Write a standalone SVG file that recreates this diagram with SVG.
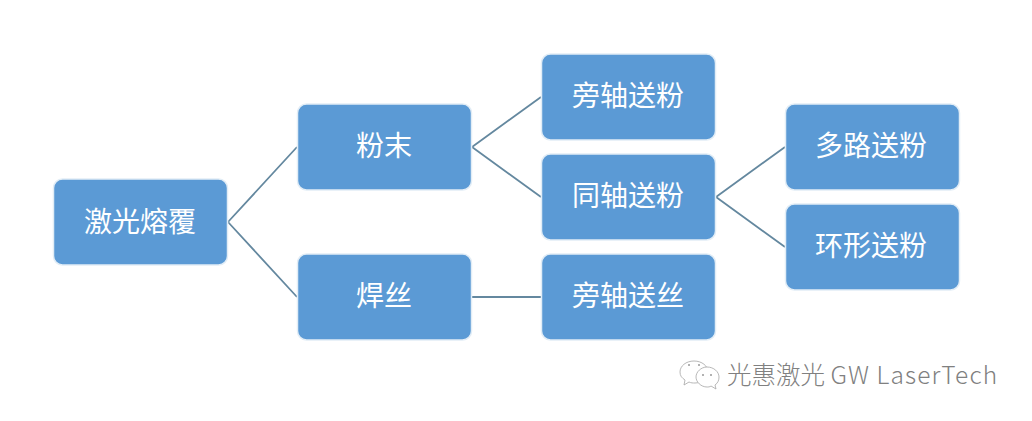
<svg xmlns="http://www.w3.org/2000/svg" width="1032" height="421" viewBox="0 0 1032 421">
<style>
.box{fill:#5b9ad5;stroke:#e2edf6;stroke-width:1.5}
.lbl{font-family:"Noto Sans CJK SC","Noto Sans",sans-serif;font-size:28px;fill:#fff;text-anchor:middle;dominant-baseline:central}
.c{fill:none;stroke:#64889f;stroke-width:1.8}
.wm{font-family:"Noto Sans CJK SC","Noto Sans",sans-serif;font-size:24.5px;font-weight:300;fill:#808080}
.ic{fill:#fff;stroke:#a6a6a6;stroke-width:.8}
</style>
<rect width="1032" height="421" fill="#fff"/>
<g id="connectors">
<path class="c" d="M228 222L297 147M228 222L297 297M472 147L541 97M472 147L541 197M472 297H541M716 197L785 147M716 197L785 247"/>
</g>
<g id="n1"><rect class="box" x="53.500" y="179" width="174" height="86" rx="9"/><text class="lbl" x="140" y="220">激光熔覆</text></g>
<g id="n2"><rect class="box" x="297.500" y="104" width="174" height="86" rx="9"/><text class="lbl" x="384" y="144">粉末</text></g>
<g id="n3"><rect class="box" x="297.500" y="254" width="174" height="86" rx="9"/><text class="lbl" x="384" y="294">焊丝</text></g>
<g id="n4"><rect class="box" x="541.500" y="54" width="174" height="86" rx="9"/><text class="lbl" x="628" y="94">旁轴送粉</text></g>
<g id="n5"><rect class="box" x="541.500" y="154" width="174" height="86" rx="9"/><text class="lbl" x="628" y="194">同轴送粉</text></g>
<g id="n6"><rect class="box" x="541.500" y="254" width="174" height="86" rx="9"/><text class="lbl" x="628" y="294">旁轴送丝</text></g>
<g id="n7"><rect class="box" x="785.500" y="104" width="174" height="86" rx="9"/><text class="lbl" x="871" y="144">多路送粉</text></g>
<g id="n8"><rect class="box" x="785.500" y="204" width="174" height="86" rx="9"/><text class="lbl" x="871" y="244">环形送粉</text></g>
<g id="watermark">
<path class="ic" d="M694 361c-8 0-14 5-14 11 0 4 2 6 5 8l-1 5 5-3c2 1 4 1 6 1 7 0 13-5 13-11s-6-11-14-11z"/>
<path class="ic" d="M707 367c-6 0-11 5-11 10s5 10 11 10c1 0 3 0 4-1l5 3-1-4c3-2 4-5 4-8 0-5-5-10-12-10z"/>
<circle cx="689" cy="365" r="1" fill="#999"/><circle cx="699" cy="365" r="1" fill="#999"/><circle cx="703" cy="375" r="1" fill="#999"/><circle cx="711" cy="375" r="1" fill="#999"/>
<text class="wm" x="727" y="384">光惠激光 <tspan letter-spacing="1.1">GW LaserTech</tspan></text>
</g>
</svg>
